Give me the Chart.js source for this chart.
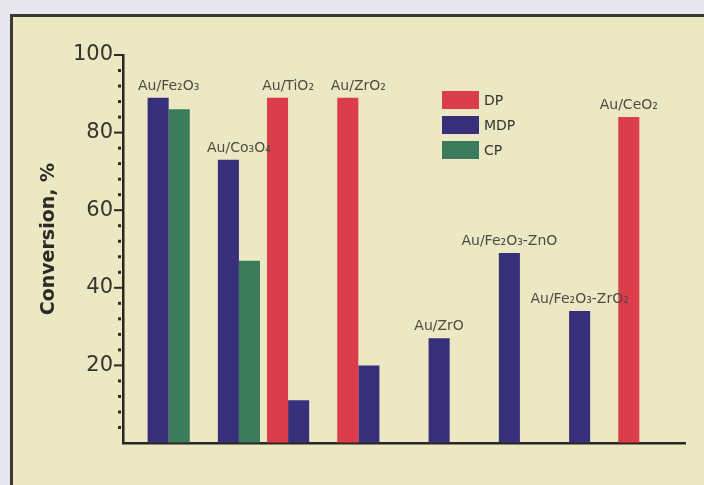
<!DOCTYPE html>
<html>
<head>
<meta charset="utf-8">
<script src="https://cdn.jsdelivr.net/npm/chart.js@4"></script>
<style>
html, body { margin: 0; padding: 0; background: #e8e6ef; overflow: hidden; }
#frame {
    position: absolute; left: 10px; top: 14px; width: 700px; height: 480px;
    background: #ebe8c3;
    border-left: 3px solid #3d3932; border-top: 3px solid #3d3932;
}
#wrap { position: absolute; left: 0; top: 0; width: 704px; height: 485px; }
</style>
</head>
<body>
<div id="frame"></div>
<div id="wrap"><canvas id="chart"></canvas></div>
<script>
// catalysts (one group of bars each)
var categories = ['Au/Fe₂O₃', 'Au/Co₃O₄', 'Au/TiO₂', 'Au/ZrO₂', 'Au/ZrO', 'Au/Fe₂O₃-ZnO', 'Au/Fe₂O₃-ZrO₂', 'Au/CeO₂'];

// conversion, % per preparation method
var dpValues  = [null, null, 89, 89, null, null, null, 84];
var mdpValues = [89, 73, 11, 20, 27, 49, 34, null];
var cpValues  = [86, 47, null, null, null, null, null, null];

var yTicks = [20, 40, 60, 80, 100];
var minorStep = 4;

var textColor = '#38342d';

// tick marks: dashes at labelled values, dots in between
var yTickMarks = {
    id: 'yTickMarks',
    afterDraw(chart) {
        var ctx = chart.ctx;
        var y = chart.scales.y;
        ctx.save();
        ctx.fillStyle = '#2e2a25';
        for (var v = minorStep; v <= y.max; v += minorStep) {
            var py = y.getPixelForValue(v);
            if (yTicks.indexOf(v) !== -1) {
                ctx.fillRect(y.right - 9, py - 1, 9, 2);
            } else {
                ctx.fillRect(y.right - 5, py - 1.5, 3, 3);
            }
        }
        ctx.restore();
    }
};

// catalyst name above each group
var groupLabels = {
    id: 'groupLabels',
    afterDatasetsDraw(chart) {
        var ctx = chart.ctx;
        ctx.save();
        ctx.font = '14px "DejaVu Sans", sans-serif';
        ctx.fillStyle = '#4e4b43';
        ctx.textAlign = 'center';
        ctx.textBaseline = 'alphabetic';
        for (var i = 0; i < categories.length; i++) {
            var left = Infinity, right = -Infinity, top = Infinity;
            chart.data.datasets.forEach(function (ds, d) {
                if (ds.data[i] == null) return;
                var bar = chart.getDatasetMeta(d).data[i];
                left = Math.min(left, bar.x - bar.width / 2);
                right = Math.max(right, bar.x + bar.width / 2);
                top = Math.min(top, bar.y);
            });
            if (top === Infinity) continue;
            ctx.fillText(categories[i], (left + right) / 2, top - 8);
        }
        ctx.restore();
    }
};

// stacked legend inside the plot
var boxLegend = {
    id: 'boxLegend',
    afterDraw(chart) {
        var ctx = chart.ctx;
        ctx.save();
        ctx.font = '14px "DejaVu Sans", sans-serif';
        ctx.textBaseline = 'middle';
        chart.data.datasets.forEach(function (ds, d) {
            var y = 91 + d * 25;
            ctx.fillStyle = ds.backgroundColor;
            ctx.fillRect(442, y, 37, 18);
            ctx.fillStyle = textColor;
            ctx.fillText(ds.label, 484, y + 10);
        });
        ctx.restore();
    }
};

var chart = new Chart(document.getElementById('chart').getContext('2d'), {
    type: 'bar',
    data: {
        labels: categories,
        datasets: [
            { label: 'DP',  data: dpValues,  backgroundColor: '#dc3d4b' },
            { label: 'MDP', data: mdpValues, backgroundColor: '#382f7b' },
            { label: 'CP',  data: cpValues,  backgroundColor: '#3b7b5b' }
        ]
    },
    options: {
        responsive: true,
        maintainAspectRatio: false,
        animation: false,
        categoryPercentage: 0.9,
        barPercentage: 1.0,
        layout: { padding: { top: 55, right: 19, bottom: 42, left: 0 } },
        plugins: {
            legend: { display: false },
            tooltip: { enabled: false }
        },
        scales: {
            x: {
                grid: { display: false, drawTicks: false },
                ticks: { display: false },
                border: { color: '#2a2620', width: 2.5 }
            },
            y: {
                min: 0,
                max: 100,
                afterFit(scale) { scale.width = 123; },
                afterBuildTicks(scale) {
                    scale.ticks = [0].concat(yTicks).map(function (v) { return { value: v }; });
                },
                ticks: {
                    padding: 10,
                    color: textColor,
                    font: { family: '"DejaVu Sans", sans-serif', size: 21 },
                    callback: function (v) { return v === 0 ? '' : v; }
                },
                grid: { drawOnChartArea: false, drawTicks: false },
                border: { color: '#2a2620', width: 2.5 },
                title: {
                    display: true,
                    text: '   Conversion, %',
                    color: '#2e2a25',
                    font: { family: '"DejaVu Sans", sans-serif', size: 19, weight: 'bold' },
                    padding: { top: 38, bottom: 0 }
                }
            }
        }
    },
    plugins: [yTickMarks, groupLabels, boxLegend]
});
</script>
</body>
</html>
